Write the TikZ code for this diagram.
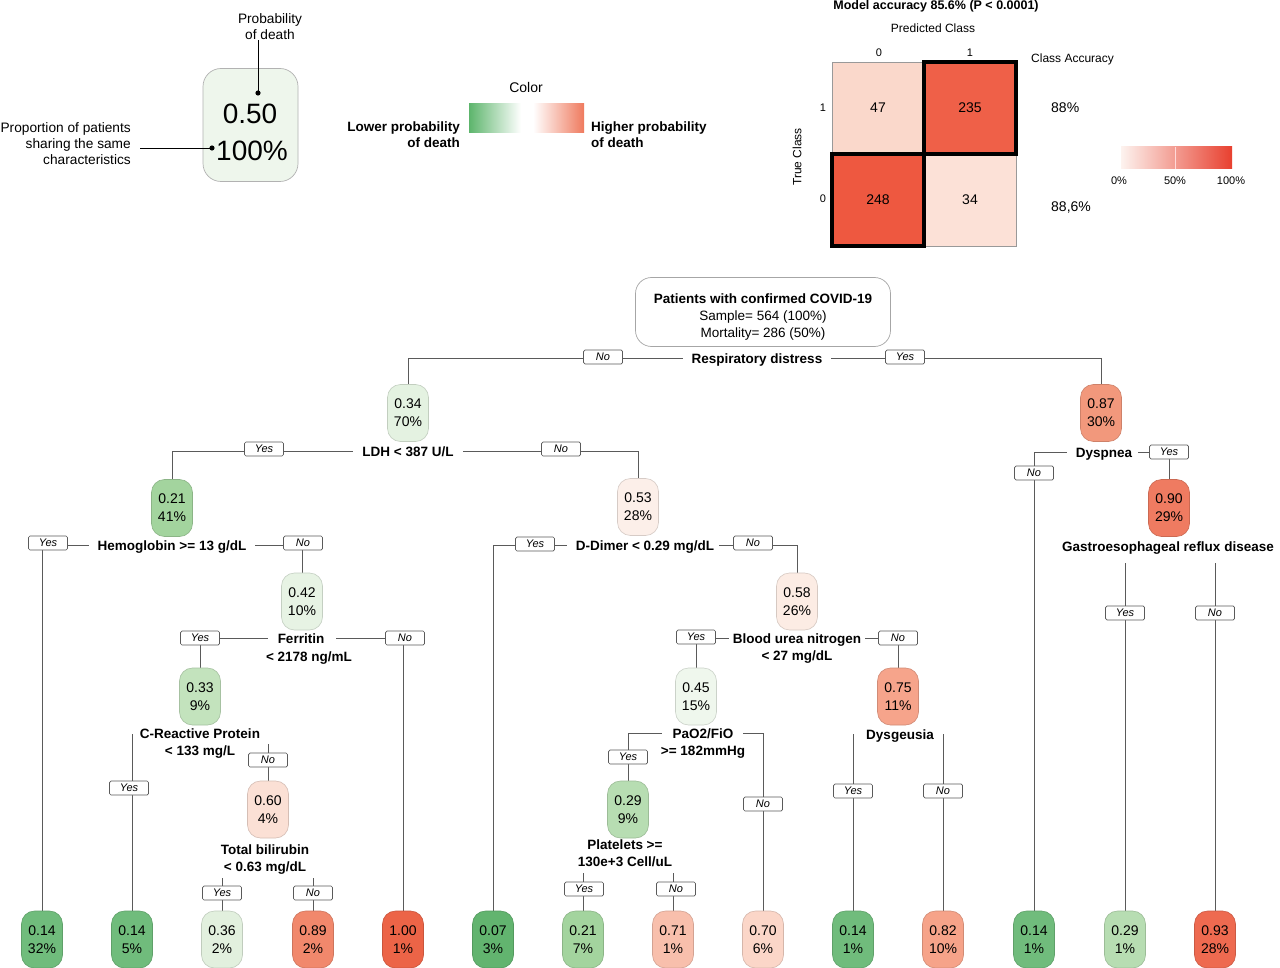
\documentclass[tikz,border=0pt]{standalone}
\usepackage{fontspec}
\setmainfont{Liberation Sans}
\usetikzlibrary{calc}
\pgfdeclarelayer{bg}
\pgfsetlayers{bg,main}
\definecolor{ln}{HTML}{5A5A5A}
\definecolor{c07}{HTML}{62B46F}
\definecolor{c14}{HTML}{70BC7C}
\definecolor{c21}{HTML}{A3D49E}
\definecolor{c29}{HTML}{B7DDB2}
\definecolor{c33}{HTML}{C3E3BD}
\definecolor{c34}{HTML}{E4F2E1}
\definecolor{c36}{HTML}{E2F0DE}
\definecolor{c42}{HTML}{E7F3E4}
\definecolor{c45}{HTML}{EFF7ED}
\definecolor{c50}{HTML}{EEF6EC}
\definecolor{c53}{HTML}{FCEFE9}
\definecolor{c58}{HTML}{FCECE4}
\definecolor{c60}{HTML}{FBE0D5}
\definecolor{c70}{HTML}{FBD6C8}
\definecolor{c71}{HTML}{F8BFAC}
\definecolor{c75}{HTML}{F6A48B}
\definecolor{c82}{HTML}{F6A389}
\definecolor{c87}{HTML}{F2987C}
\definecolor{c89}{HTML}{F1886C}
\definecolor{c90}{HTML}{EF7B61}
\definecolor{c93}{HTML}{EE6A50}
\definecolor{c100}{HTML}{EC6447}
\definecolor{lgreen}{HTML}{5DB56C}
\definecolor{lred}{HTML}{EF7A5E}
\definecolor{mlight}{HTML}{FAD8CB}
\definecolor{mlight2}{HTML}{FCE1D7}
\definecolor{mdark}{HTML}{EF6048}
\definecolor{mdark2}{HTML}{EE5840}
\definecolor{barL}{HTML}{FDF3EF}
\definecolor{barR}{HTML}{E8402F}
\tikzset{
  pn/.style={draw=#1!85!black, fill=#1, line width=0.6pt, rounded corners=13pt,
    minimum width=41pt, minimum height=57pt, inner sep=0pt, align=center,
    font=\fontsize{14}{18}\selectfont},
  cnd/.style={font=\bfseries\fontsize{13.5}{17}\selectfont, inner sep=0pt,
    text height=10pt, text depth=0pt},
  yn/.style={draw=ln, fill=white, rounded corners=1.5pt, minimum width=39pt,
    minimum height=14pt, inner sep=0pt, line width=0.7pt,
    font=\itshape\fontsize{11}{11}\selectfont},
  conn/.style={draw=ln, line width=0.8pt},
  txt/.style={inner sep=0pt, font=\fontsize{13.7}{16}\selectfont},
  cell/.style={minimum width=92pt, minimum height=92pt, inner sep=0pt,
    draw=black!40, line width=0.6pt, font=\fontsize{14}{14}\selectfont},
  small/.style={inner sep=0pt, font=\fontsize{11}{11}\selectfont},
  mid/.style={inner sep=0pt, font=\fontsize{12}{12}\selectfont},
}
\begin{document}
\begin{tikzpicture}[x=1pt,y=-1pt]
\useasboundingbox (0,0) rectangle (1280,968);
\begin{pgfonlayer}{bg}
\fill[white] (0,0) rectangle (1280,968);
\end{pgfonlayer}

% ---------- top-left legend ----------
\node[draw=black!30, fill=c50, line width=0.7pt, rounded corners=18pt,
  minimum width=95pt, minimum height=113pt, inner sep=0pt] (lgbox) at (250.5,125) {};
\node[inner sep=0pt, font=\fontsize{28}{28}\selectfont] (lgp) at (250,114) {0.50};
\node[inner sep=0pt, font=\fontsize{28}{28}\selectfont] (lgq) at (252,151) {100\%};
\node[txt, align=center, font=\fontsize{13.7}{16}\selectfont] (lgt1) at (270,27) {Probability\\of death};
\node[txt, align=right, anchor=east, font=\fontsize{13.7}{16}\selectfont] (lgt2) at (131,144) {Proportion of patients\\sharing the same\\characteristics};
\fill (258,93) circle (2.6) coordinate (dot1);
\fill (212,148) circle (2.6) coordinate (dot2);
\draw[line width=0.9pt] (dot1) -- (dot1 |- lgt1.south);
\draw[line width=0.9pt] (dot2) -- ([xshift=9pt]dot2 -| lgt2.east);

% ---------- colour legend ----------
\node[txt, font=\fontsize{14}{14}\selectfont] (colt) at (526,87) {Color};
\shade[left color=lgreen, right color=white] (469,104) rectangle (521,133);
\fill[white] (521,104) rectangle (533,133);
\shade[left color=white, right color=lred] (533,104) rectangle (584,133);
\node[txt, anchor=east, align=right, font=\bfseries\fontsize{13.5}{16}\selectfont] (lowt) at (460,135) {Lower probability\\of death};
\node[txt, anchor=west, align=left, font=\bfseries\fontsize{13.5}{16}\selectfont] (hight) at (591,135) {Higher probability\\of death};

% ---------- confusion matrix ----------
\node[inner sep=0pt, font=\bfseries\fontsize{12.5}{12.5}\selectfont] (macc) at (936,6) {Model accuracy 85.6\% (P < 0.0001)};
\node[mid] (pc) at (933,28) {Predicted Class};
\node[small] (col0) at (879,53) {0};
\node[small] (col1) at (970,53) {1};
\node[mid, anchor=west] (ca) at (1031,59) {Class Accuracy};
\node[small] (row1) at (823,108) {1};
\node[small] (row0) at (823,199) {0};
\node[mid, rotate=90] (tc) at (797,157) {True Class};
\node[cell, fill=mlight] (m10) at (878,108) {47};
\node[cell, fill=mdark] (m11) at (970,108) {235};
\node[cell, fill=mdark2] (m00) at (878,200) {248};
\node[cell, fill=mlight2] (m01) at (970,200) {34};
\draw[line width=4pt] (m11.north west) rectangle (m11.south east);
\draw[line width=4pt] (m00.north west) rectangle (m00.south east);
\node[inner sep=0pt, font=\fontsize{14}{14}\selectfont, anchor=west] (a1) at (1051,108) {88\%};
\node[inner sep=0pt, font=\fontsize{14}{14}\selectfont, anchor=west] (a0) at (1051,208) {88,6\%};
\shade[left color=barL, right color=barR] (1121,147) rectangle (1232,169);
\draw[white!85!red, line width=0.8pt] (1175,147) -- (1175,169);
\node[small] (b0) at (1119,181) {0\%};
\node[small] (b50) at (1175,181) {50\%};
\node[small] (b100) at (1231,181) {100\%};

% ---------- tree ----------
\node[draw=black!35, line width=0.7pt, rounded corners=16pt, minimum width=255pt,
  minimum height=69pt, inner sep=0pt] (root) at (763,312) {};
\node[align=center, inner sep=0pt, font=\fontsize{13.5}{17}\selectfont]
  (rootT) at (763,317) {\textbf{Patients with confirmed COVID-19}\\Sample= 564 (100\%)\\Mortality= 286 (50\%)};

% internal nodes
\node[pn=c34] (n1) at (408,413) {0.34\\70\%};
\node[pn=c87] (n2) at (1101,413) {0.87\\30\%};
\node[pn=c21] (n3) at (172,508) {0.21\\41\%};
\node[pn=c53] (n4) at (638,507) {0.53\\28\%};
\node[pn=c90] (n5) at (1169,508) {0.90\\29\%};
\node[pn=c42] (n6) at (302,601.5) {0.42\\10\%};
\node[pn=c58] (n9) at (797,601.5) {0.58\\26\%};
\node[pn=c33] (n7) at (200,696.5) {0.33\\9\%};
\node[pn=c45] (n10) at (696,696.5) {0.45\\15\%};
\node[pn=c75] (n11) at (898,696.5) {0.75\\11\%};
\node[pn=c60] (n8) at (268,809.5) {0.60\\4\%};
\node[pn=c29] (n12) at (628,809.5) {0.29\\9\%};

% leaves
\node[pn=c14] (L1) at (42,939.5) {0.14\\32\%};
\node[pn=c14] (L2) at (132,939.5) {0.14\\5\%};
\node[pn=c36] (L3) at (222,939.5) {0.36\\2\%};
\node[pn=c89] (L4) at (313,939.5) {0.89\\2\%};
\node[pn=c100] (L5) at (403,939.5) {1.00\\1\%};
\node[pn=c07] (L6) at (493,939.5) {0.07\\3\%};
\node[pn=c21] (L7) at (583,939.5) {0.21\\7\%};
\node[pn=c71] (L8) at (673,939.5) {0.71\\1\%};
\node[pn=c70] (L9) at (763,939.5) {0.70\\6\%};
\node[pn=c14] (L10) at (853,939.5) {0.14\\1\%};
\node[pn=c82] (L11) at (943,939.5) {0.82\\10\%};
\node[pn=c14] (L12) at (1034,939.5) {0.14\\1\%};
\node[pn=c29] (L13) at (1125,939.5) {0.29\\1\%};
\node[pn=c93] (L14) at (1215,939.5) {0.93\\28\%};

% split labels
\node[cnd] (rd) at (757,358) {Respiratory distress};
\node[cnd] (ldh) at (408,451) {LDH < 387 U/L};
\node[cnd] (hb) at (172,545) {Hemoglobin >= 13 g/dL};
\node[cnd] (dd) at (645,545) {D-Dimer < 0.29 mg/dL};
\node[cnd] (dys) at (1104,452) {Dyspnea};
\node[cnd] (gerd) at (1168,546) {Gastroesophageal reflux disease};
\node[cnd] (fer) at (301,638) {Ferritin};
\node[cnd] (fer2) at (309,656) {< 2178 ng/mL};
\node[cnd] (bun) at (797,638) {Blood urea nitrogen};
\node[cnd] (bun2) at (797,655) {< 27 mg/dL};
\node[cnd] (crp) at (200,733) {C-Reactive Protein};
\node[cnd] (crp2) at (200,750) {< 133 mg/L};
\node[cnd] (pao) at (703,733) {PaO2/FiO};
\node[cnd] (pao2) at (703,750) {>= 182mmHg};
\node[cnd] (dysg) at (900,734) {Dysgeusia};
\node[cnd] (tb) at (265,849) {Total bilirubin};
\node[cnd] (tb2) at (265,866) {< 0.63 mg/dL};
\node[cnd] (plt) at (625,844) {Platelets >=};
\node[cnd] (plt2) at (625,861) {130e+3 Cell/uL};

% yes / no tags
\node[yn] (rdN) at (603,357) {No};
\node[yn] (rdY) at (905,357) {Yes};
\node[yn] (ldhY) at (264,449) {Yes};
\node[yn] (ldhN) at (561,449) {No};
\node[yn] (hbY) at (48,543) {Yes};
\node[yn] (hbN) at (303,543) {No};
\node[yn] (ddY) at (535,544) {Yes};
\node[yn] (ddN) at (753,543) {No};
\node[yn] (dysN) at (1034,473) {No};
\node[yn] (dysY) at (1169,452) {Yes};
\node[yn] (gerdY) at (1125,613) {Yes};
\node[yn] (gerdN) at (1215,613) {No};
\node[yn] (ferY) at (200,638) {Yes};
\node[yn] (ferN) at (405,638) {No};
\node[yn] (bunY) at (696,637) {Yes};
\node[yn] (bunN) at (898,638) {No};
\node[yn] (crpY) at (129,788) {Yes};
\node[yn] (crpN) at (268,760) {No};
\node[yn] (paoY) at (628,757) {Yes};
\node[yn] (paoN) at (763,804) {No};
\node[yn] (dysgY) at (853,791) {Yes};
\node[yn] (dysgN) at (943,791) {No};
\node[yn] (tbY) at (222,893) {Yes};
\node[yn] (tbN) at (313,893) {No};
\node[yn] (pltY) at (584,889) {Yes};
\node[yn] (pltN) at (676,889) {No};

% free ends of vertical connectors
\coordinate (crpA) at (0,734);
\coordinate (crpB) at (0,744);
\coordinate (tbB) at (0,878);
\coordinate (pltB) at (0,873);
\coordinate (dysgB) at (0,734);
\coordinate (gerdB) at (0,563);

\begin{pgfonlayer}{bg}
\draw[conn] (n1.north) |- ([xshift=-9pt]rd.west);
\draw[conn] (n2.north) |- ([xshift=9pt]rd.east);
\draw[conn] (n3.north) |- ([xshift=-9pt]ldh.west);
\draw[conn] (n4.north) |- ([xshift=9pt]ldh.east);
\draw[conn] (L1.north) |- ([xshift=-9pt]hb.west);
\draw[conn] (n6.north) |- ([xshift=9pt]hb.east);
\draw[conn] (L6.north) |- ([xshift=-9pt]dd.west);
\draw[conn] (n9.north) |- ([xshift=5pt]dd.east);
\draw[conn] (L12.north) |- ([xshift=-9pt]dys.west);
\draw[conn] (n5.north) |- ([xshift=6pt]dys.east);
\draw[conn] (L13.north) -- (L13.north |- gerdB);
\draw[conn] (L14.north) -- (L14.north |- gerdB);
\draw[conn] (n7.north) |- ([xshift=-10pt]fer.west);
\draw[conn] (L5.north) |- ([xshift=12pt]fer.east);
\draw[conn] (n10.north) |- ([xshift=-4pt]bun.west);
\draw[conn] (n11.north) |- ([xshift=4pt]bun.east);
\draw[conn] (L2.north) -- (L2.north |- crpA);
\draw[conn] (n8.north) -- (n8.north |- crpB);
\draw[conn] (n12.north) |- ([xshift=-10pt]pao.west);
\draw[conn] (L9.north) |- ([xshift=9pt]pao.east);
\draw[conn] (L10.north) -- (L10.north |- dysgB);
\draw[conn] (L11.north) -- (L11.north |- dysgB);
\draw[conn] (L3.north) -- (L3.north |- tbB);
\draw[conn] (L4.north) -- (L4.north |- tbB);
\draw[conn] (L7.north) -- (L7.north |- pltB);
\draw[conn] (L8.north) -- (L8.north |- pltB);
\end{pgfonlayer}
\end{tikzpicture}
\end{document}
